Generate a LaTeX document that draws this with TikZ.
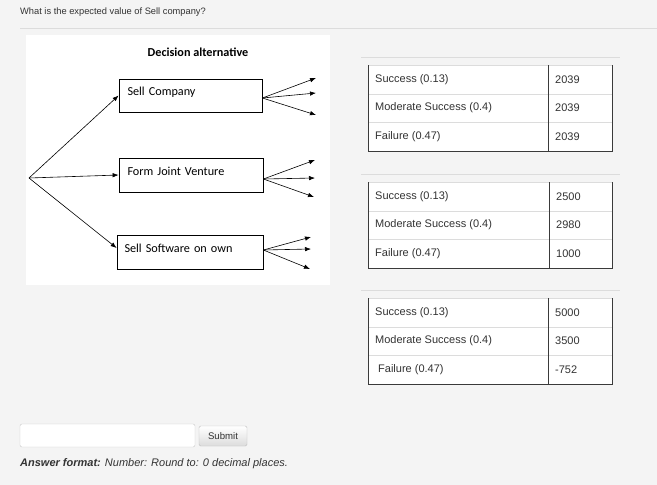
\documentclass[tikz,border=0pt]{standalone}
\usepackage{fontspec}
\setmainfont{Liberation Sans}
\newfontfamily\calfont{Carlito}
\usetikzlibrary{arrows.meta}

\definecolor{pagegray}{HTML}{F4F4F4}
\definecolor{rulegray}{HTML}{DCDCDC}
\definecolor{textgray}{HTML}{333333}
\definecolor{edgegray}{HTML}{3A3A3A}

\tikzset{
  altbox/.style={draw, line width=0.8pt, inner sep=0pt, align=left, text depth=8pt,
    font=\calfont\fontsize{12.2}{14}\selectfont},
  branch/.style={line width=0.6pt, -{Latex[length=6pt,width=4.5pt]}},
  cell/.style={anchor=west, inner sep=0pt, text=textgray, font=\fontsize{11}{13}\selectfont}
}

\begin{document}
\begin{tikzpicture}[x=1pt,y=-1pt]
    % page and picture panel
    \fill[pagegray] (0,0) rectangle (657,485);
    \useasboundingbox (0,0) rectangle (657,485);
    \fill[white] (26,35) rectangle (330,285);

    \node[anchor=west, inner sep=0pt, text=textgray, font=\fontsize{9.3}{11}\selectfont] (question) at (20,12) {What is the expected value of Sell company?};
    \draw[rulegray] (20,28) -- (657,28);

    % decision tree
    \node[font=\calfont\bfseries\fontsize{12.2}{14}\selectfont] (title) at (198,52) {Decision alternative};
    \node[altbox, minimum width=143pt, minimum height=33pt, text width=126pt] (sell) at (190.5,95.5) {Sell Company};
    \node[altbox, minimum width=144pt, minimum height=34pt, text width=127pt] (joint) at (191,175) {Form Joint Venture};
    \node[altbox, minimum width=146pt, minimum height=34pt, text width=131pt] (own) at (190,252) {Sell Software on own};

    \coordinate (root) at (29,178);
    \draw[branch] (root) -- (sell.west);
    \draw[branch] (root) -- (joint.west);
    \draw[branch] (root) -- ([yshift=4pt]own.west);

    \coordinate (sellA) at (316,78);
    \coordinate (sellB) at (316,93);
    \coordinate (sellC) at (316,115);
    \coordinate (jointA) at (315,160);
    \coordinate (jointB) at (315,178);
    \coordinate (jointC) at (314,197);
    \coordinate (ownA) at (311,237);
    \coordinate (ownB) at (311,249);
    \coordinate (ownC) at (310,269);
    \draw[branch] ([yshift=-2.5pt]sell.east) -- (sellA);
    \draw[branch] ([yshift=-2.5pt]sell.east) -- (sellB);
    \draw[branch] ([yshift=-2.5pt]sell.east) -- (sellC);
    \draw[branch] ([yshift=-4pt]joint.east) -- (jointA);
    \draw[branch] ([yshift=-4pt]joint.east) -- (jointB);
    \draw[branch] ([yshift=-4pt]joint.east) -- (jointC);
    \draw[branch] ([yshift=2pt]own.east) -- (ownA);
    \draw[branch] ([yshift=2pt]own.east) -- (ownB);
    \draw[branch] ([yshift=2pt]own.east) -- (ownC);

    % outcome tables
    \foreach \top/\mid/\va/\vb/\vc/\ind [count=\n] in {65/548/2039/2039/2039/0, 182/549/2500/2980/1000/0, 298/548/5000/3500/-752/3}{
        \draw[rulegray] (361,\top-8) -- (620,\top-8);
        \fill[white] (368,\top) rectangle (612,\top+86);
        \draw[rulegray] (368,\top) -- (612,\top);
        \draw[rulegray] (368,\top+29) -- (612,\top+29);
        \draw[rulegray] (368,\top+57) -- (612,\top+57);
        \draw[edgegray, line width=0.8pt] (368,\top) -- (368,\top+86) -- (612,\top+86) -- (612,\top);
        \draw[edgegray, line width=0.6pt] (\mid,\top) -- (\mid,\top+86);
        \node[cell] (o\n a) at (375,\top+14.5) {Success (0.13)};
        \node[cell] (o\n b) at (375,\top+43) {Moderate Success (0.4)};
        \node[cell] (o\n c) at (375+\ind,\top+71.5) {Failure (0.47)};
        \node[cell] (v\n a) at (\mid+7,\top+14.5) {\va};
        \node[cell] (v\n b) at (\mid+7,\top+43) {\vb};
        \node[cell] (v\n c) at (\mid+7,\top+71.5) {\vc};
    }

    % answer field
    \node[draw=rulegray!80!gray, fill=white, rounded corners=2pt, minimum width=175pt, minimum height=23pt, inner sep=0pt] (answer) at (107.5,435.5) {};
    \node[draw=rulegray!70!gray, top color=white, bottom color=rulegray, rounded corners=1.5pt, minimum width=48pt, minimum height=20pt, inner sep=0pt, text=textgray, font=\fontsize{9.6}{11}\selectfont] (submit) at (223,436) {Submit};
    \node[anchor=west, inner sep=0pt, text=textgray, font=\itshape\fontsize{11}{13}\selectfont] (format) at (20,464) {\textbf{Answer format:} Number: Round to: 0 decimal places.};
\end{tikzpicture}
\end{document}
